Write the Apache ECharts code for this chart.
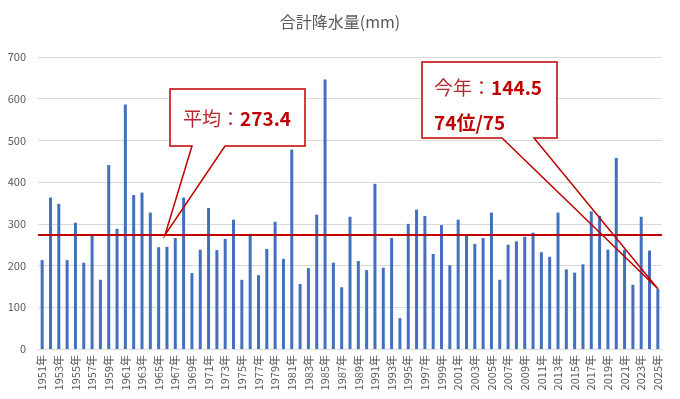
<!DOCTYPE html>
<html>
<head>
<meta charset="utf-8">
<script src="https://cdn.jsdelivr.net/npm/echarts@6/dist/echarts.min.js"></script>
<style>
  html, body { margin: 0; padding: 0; background: #fff; }
  #chart { width: 680px; height: 399px; }
</style>
</head>
<body>
<div id="chart"></div>
<script>
// 年ごとの合計降水量(mm)
var years = [];
for (var y = 1951; y <= 2025; y++) years.push(y + "年");
var rainfall = [
  213, 363, 348, 213, 303, 207, 274, 166, 441, 288,
  586, 369, 375, 327, 244, 245, 266, 363, 182, 238,
  338, 237, 264, 310, 166, 276, 177, 240, 305, 216,
  478, 156, 194, 322, 646, 207, 148, 317, 211, 189,
  396, 195, 266, 74, 300, 334, 319, 228, 297, 201,
  310, 271, 252, 266, 327, 166, 250, 258, 269, 279,
  232, 221, 327, 191, 183, 203, 330, 319, 238, 458,
  238, 154, 317, 236, 144.5
];
var avgValue = 273.4;
var thisYear = "2025年";
var thisValue = 144.5;
var rankText = "74位/75";

var red = "#C00000";
var gray = "#595959";
var font = "'Noto Sans CJK JP', 'Noto Sans', sans-serif";

var chart = echarts.init(document.getElementById("chart"));
chart.setOption({
  animation: false,
  textStyle: { fontFamily: font },
  title: {
    text: "合計降水量(mm)",
    left: "center",
    top: 9,
    textStyle: { fontSize: 16, fontWeight: "normal", color: gray, fontFamily: font }
  },
  grid: { left: 38, right: 18, top: 57, bottom: 50 },
  xAxis: {
    type: "category",
    data: years,
    axisTick: { show: false },
    axisLine: { lineStyle: { color: "#d9d9d9" } },
    axisLabel: { rotate: 90, interval: 1, fontSize: 11, color: gray, margin: 6 }
  },
  yAxis: {
    type: "value",
    min: 0,
    max: 700,
    interval: 100,
    axisLabel: { fontSize: 11, color: gray, margin: 12 },
    splitLine: { lineStyle: { color: "#d9d9d9" } }
  },
  series: [{
    type: "bar",
    data: rainfall,
    barWidth: 3,
    itemStyle: { color: "#4270BE" },
    markLine: {
      silent: true,
      symbol: "none",
      label: { show: false },
      lineStyle: { color: red, width: 2, type: "solid" },
      data: [{ yAxis: avgValue }]
    }
  }]
});

function drawCallouts() {
  var avgY = chart.convertToPixel({ yAxisIndex: 0 }, avgValue);
  var tip2 = chart.convertToPixel({ seriesIndex: 0 }, [thisYear, thisValue]);
  var b1 = { x1: 170, y1: 89, x2: 305, y2: 146, g1: 192, g2: 225, tx: 165, ty: avgY };
  var b2 = { x1: 422, y1: 62, x2: 557, y2: 138, g1: 502, g2: 534, tx: tip2[0], ty: tip2[1] };
  function callout(b) {
    return [
      {
        type: "rect",
        shape: { x: b.x1, y: b.y1, width: b.x2 - b.x1, height: b.y2 - b.y1 },
        style: { fill: "#fff" },
        z: 100
      },
      {
        type: "polygon",
        shape: {
          points: [
            [b.g1, b.y2], [b.x1, b.y2], [b.x1, b.y1], [b.x2, b.y1],
            [b.x2, b.y2], [b.g2, b.y2], [b.tx, b.ty]
          ]
        },
        style: { fill: "none", stroke: red, lineWidth: 1.5 },
        z: 101
      }
    ];
  }
  var rich = {
    n: { fontSize: 19, fill: "#B8282E", fontFamily: font },
    b: { fontSize: 19, fill: red, fontWeight: "bold", fontFamily: font }
  };
  function label(x, y, text) {
    return {
      type: "text", x: x, y: y, z: 102,
      style: { text: text, rich: rich, fill: red, font: "19px " + font, verticalAlign: "middle" }
    };
  }
  var els = callout(b1).concat(callout(b2)).concat([
    label(183, 119, "{n|平均：}{b|" + avgValue + "}"),
    label(434, 88, "{n|今年：}{b|" + thisValue + "}"),
    label(434, 123, "{b|" + rankText + "}")
  ]);
  chart.setOption({ graphic: els });
}
drawCallouts();
</script>
</body>
</html>
